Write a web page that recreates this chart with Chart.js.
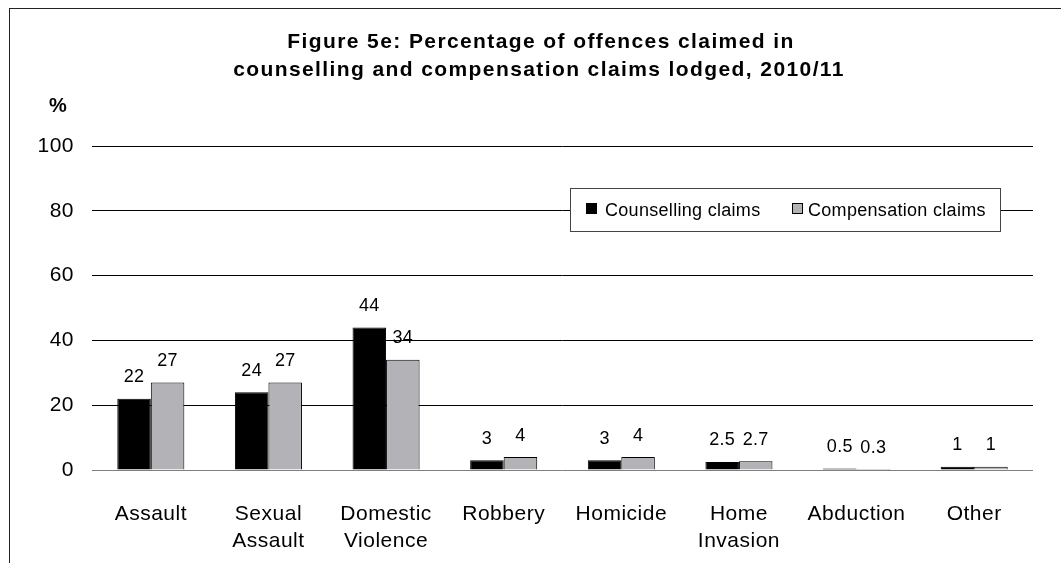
<!DOCTYPE html>
<html>
<head>
<meta charset="utf-8">
<script src="https://cdn.jsdelivr.net/npm/chart.js@4.4.0/dist/chart.umd.min.js"></script>
<style>
    html, body { margin: 0; padding: 0; background: #fff; }
</style>
</head>
<body>
<canvas id="chart" width="1061" height="563"></canvas>
<script>
// Data
const categories = [['Assault'], ['Sexual', 'Assault'], ['Domestic', 'Violence'], ['Robbery'],
    ['Homicide'], ['Home', 'Invasion'], ['Abduction'], ['Other']];
const counsellingClaims = [22, 24, 44, 3, 3, 2.5, 0.5, 1];
const compensationClaims = [27, 27, 34, 4, 4, 2.7, 0.3, 1];
const yTicks = [0, 20, 40, 60, 80, 100];
const seriesNames = ['Counselling claims', 'Compensation claims'];
const titleLines = [
    'Figure 5e: Percentage of offences claimed in',
    'counselling and compensation claims lodged, 2010/11'
];
const yUnit = '%';

const FONT = '"Liberation Sans", Arial, sans-serif';
const BLACK = '#000000';
const GREY = '#b3b3b7';

// Letter spacing so text widths come closer to the original rendering
const spacingPlugin = {
    id: 'spacing',
    beforeLayout(chart) { chart.ctx.letterSpacing = '0.5px'; },
    beforeDraw(chart) { chart.ctx.letterSpacing = '0.5px'; }
};

// Frame, title and unit label
const decorPlugin = {
    id: 'decor',
    beforeDraw(chart) {
        const ctx = chart.ctx;
        ctx.save();
        ctx.fillStyle = '#fff';
        ctx.fillRect(0, 0, chart.width, chart.height);
        ctx.strokeStyle = '#222';
        ctx.lineWidth = 1;
        ctx.strokeRect(9.5, 8.5, 1200, 700);

        ctx.fillStyle = BLACK;
        ctx.textAlign = 'center';
        ctx.textBaseline = 'alphabetic';
        ctx.letterSpacing = '1.4px';
        ctx.font = 'bold 21px ' + FONT;
        ctx.fillText(titleLines[0], 541, 48);
        ctx.fillText(titleLines[1], 539, 76);

        ctx.letterSpacing = '0px';
        ctx.font = 'bold 20px ' + FONT;
        ctx.fillText(yUnit, 58, 112);
        ctx.restore();
    }
};

// Values above the bars
const valueLabels = {
    id: 'valueLabels',
    afterDatasetsDraw(chart) {
        const ctx = chart.ctx;
        ctx.save();
        ctx.fillStyle = BLACK;
        ctx.font = '18px ' + FONT;
        ctx.letterSpacing = '0.3px';
        ctx.textAlign = 'center';
        ctx.textBaseline = 'alphabetic';
        chart.data.datasets.forEach((ds, i) => {
            chart.getDatasetMeta(i).data.forEach((bar, j) => {
                ctx.fillText(String(ds.data[j]), bar.x, bar.y - 16.5);
            });
        });
        ctx.restore();
    }
};

// Boxed legend inside the plot area
const boxLegend = {
    id: 'boxLegend',
    afterDraw(chart) {
        const ctx = chart.ctx;
        const colors = [BLACK, GREY];
        const swatchX = [586, 792];
        const textX = [605, 808];
        ctx.save();
        ctx.fillStyle = '#fff';
        ctx.fillRect(570, 188, 431, 43);
        ctx.strokeStyle = '#444';
        ctx.lineWidth = 1;
        ctx.strokeRect(570.5, 188.5, 430, 43);

        ctx.font = '18px ' + FONT;
        ctx.letterSpacing = '0.3px';
        ctx.textAlign = 'left';
        ctx.textBaseline = 'alphabetic';
        seriesNames.forEach((name, i) => {
            ctx.fillStyle = colors[i];
            ctx.fillRect(swatchX[i], 203, 11, 11);
            ctx.strokeStyle = '#000';
            ctx.strokeRect(swatchX[i] + 0.5, 203.5, 10, 10);
            ctx.fillStyle = BLACK;
            ctx.fillText(name, textX[i], 216);
        });
        ctx.restore();
    }
};

const ctx = document.getElementById('chart').getContext('2d');

new Chart(ctx, {
    type: 'bar',
    data: {
        labels: categories,
        datasets: [
            {
                label: seriesNames[0],
                data: counsellingClaims,
                backgroundColor: BLACK,
                borderColor: BLACK,
                borderWidth: 1
            },
            {
                label: seriesNames[1],
                data: compensationClaims,
                backgroundColor: GREY,
                borderColor: BLACK,
                borderWidth: 1
            }
        ]
    },
    options: {
        responsive: false,
        animation: false,
        devicePixelRatio: 1,
        layout: {
            padding: { top: 146, right: 28, left: 0, bottom: 0 }
        },
        datasets: {
            bar: {
                categoryPercentage: 0.57,
                barPercentage: 1.0
            }
        },
        plugins: {
            legend: { display: false },
            title: { display: false },
            tooltip: { enabled: false }
        },
        scales: {
            x: {
                grid: { display: false },
                border: { display: false },
                ticks: {
                    color: BLACK,
                    font: { family: FONT, size: 21, lineHeight: 1.31 },
                    padding: 22,
                    maxRotation: 0,
                    autoSkip: false
                },
                afterFit(scale) { scale.height = 93; }
            },
            y: {
                min: 0,
                max: 100,
                afterBuildTicks(scale) {
                    scale.ticks = yTicks.map(v => ({ value: v }));
                },
                grid: {
                    color: c => (c.tick && c.tick.value === 0 ? '#808080' : BLACK),
                    lineWidth: 1,
                    drawTicks: false
                },
                border: { display: false },
                ticks: {
                    color: BLACK,
                    font: { family: FONT, size: 21 },
                    padding: 18
                },
                afterFit(scale) { scale.width = 92; }
            }
        }
    },
    plugins: [spacingPlugin, decorPlugin, valueLabels, boxLegend]
});
</script>
</body>
</html>
